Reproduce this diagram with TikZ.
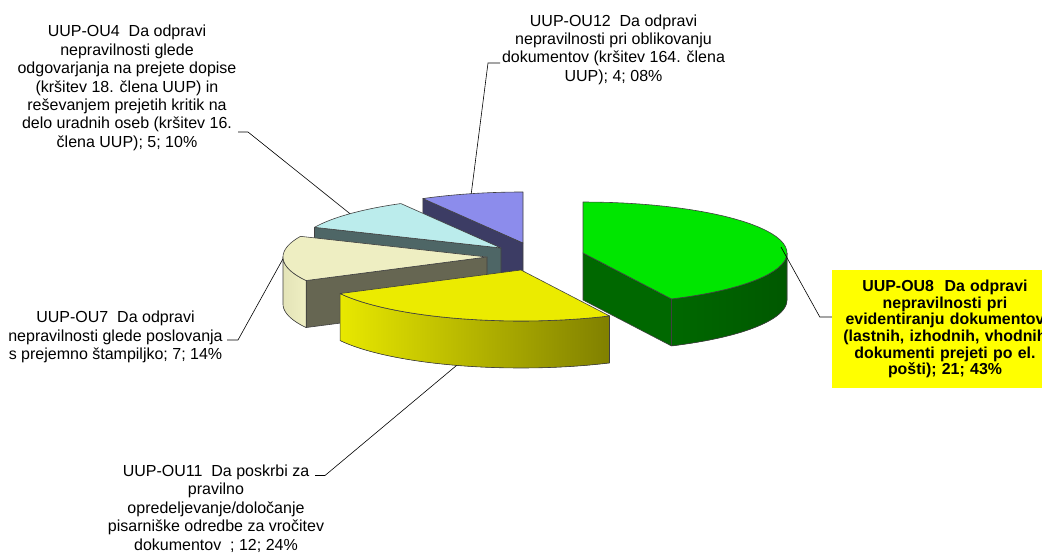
\documentclass[tikz,border=0pt]{standalone}
\usepackage{fontspec}
\setmainfont{Liberation Sans}
\definecolor{gtop}{RGB}{0, 230, 0}
\definecolor{gside}{RGB}{0, 104, 0}
\definecolor{gsidedk}{RGB}{0, 88, 0}
\definecolor{ytop}{RGB}{235, 235, 0}
\definecolor{yside}{RGB}{232, 232, 0}
\definecolor{ysidedk}{RGB}{128, 128, 0}
\definecolor{ktop}{RGB}{238, 238, 194}
\definecolor{kside}{RGB}{228, 228, 184}
\definecolor{kcut}{RGB}{102, 102, 82}
\definecolor{ctop}{RGB}{187, 236, 236}
\definecolor{ccut}{RGB}{78, 102, 102}
\definecolor{btop}{RGB}{140, 140, 236}
\definecolor{bcut}{RGB}{60, 60, 100}
\definecolor{labelyellow}{RGB}{255, 255, 0}
\usetikzlibrary{calc}

\def\pierx{204}
\def\piery{51}
\def\pieh{47}
% top of a slice: centre x, centre y, from, to, colour
\newcommand{\pietop}[5]{%
  \filldraw[slice, fill=#5] (#1,#2) -- plot[domain=#3:#4, samples=40] ({#1+\pierx*cos(\x)},{#2-\piery*sin(\x)}) -- cycle;}
% outer wall: centre x, centre y, from, to, fill options
\newcommand{\pierim}[5]{%
  \filldraw[slice, #5] plot[domain=#3:#4, samples=40] ({#1+\pierx*cos(\x)},{#2-\piery*sin(\x)})
    -- plot[domain=#4:#3, samples=40] ({#1+\pierx*cos(\x)},{#2-\piery*sin(\x)+\pieh}) -- cycle;}
% cut face: centre x, centre y, angle, colour
\newcommand{\piecut}[4]{%
  \filldraw[slice, fill=#4] (#1,#2) -- ++({\pierx*cos(#3)},{-\piery*sin(#3)}) -- ++(0,\pieh)
    -- ++({-\pierx*cos(#3)},{\piery*sin(#3)}) -- cycle;}

\begin{document}
\begin{tikzpicture}[x=1pt, y=-1pt,
  slice/.style={draw=black!75, line width=0.6pt, line join=round},
  lbl/.style={font={\fontsize{16}{18.4}\selectfont}, align=center, inner sep=0pt},
  leader/.style={draw=black, line width=0.6pt},
  hilite/.style={fill=labelyellow, font={\bfseries\fontsize{15.9}{16.6}\selectfont}, align=center,
    text width=210pt, inner xsep=8pt, inner ysep=0pt, minimum height=118pt}
]
  \useasboundingbox (0,0) rectangle (1042,553);
  \fill[white] (0,0) rectangle (1042,553);
  \clip (0,0) rectangle (1042,553);

  % slices, back to front
  \piecut{523}{243}{119.4}{bcut}
  \pietop{523}{243}{90}{119.4}{btop}
  \piecut{501}{248}{156.1}{ccut}
  \pietop{501}{248}{119.4}{156.1}{ctop}
  \piecut{487}{257}{-152.5}{kcut}
  \pierim{487}{257}{-152.5}{-180}{left color=kside, right color=ktop}
  \pietop{487}{257}{-152.5}{-203.9}{ktop}
  \piecut{583}{253}{-64.3}{gside}
  \pierim{583}{253}{0}{-64.3}{left color=gside, right color=gsidedk}
  \pietop{583}{253}{90}{-64.3}{gtop}
  \pierim{521}{270}{-64.3}{-152.5}{left color=yside, right color=ysidedk}
  \pietop{521}{270}{-64.3}{-152.5}{ytop}

  % where the leaders meet the slices
  \coordinate (p12) at ({523+\pierx*cos(104.7)},{243-\piery*sin(104.7)});
  \coordinate (p4) at ({501+\pierx*cos(137.75)},{248-\piery*sin(137.75)});
  \coordinate (p7) at ({487+\pierx*cos(-178.2)},{257-\piery*sin(-178.2)});
  \coordinate (p11) at ({521+\pierx*cos(-108.4)},{270-\piery*sin(-108.4)+\pieh});
  \coordinate (p8) at (781,247);

  % labels
  \node[lbl] (l4) at (127,88) {UUP-OU4\ \ Da odpravi\\nepravilnosti glede\\odgovarjanja na prejete dopise\\(kršitev 18. člena UUP) in\\reševanjem prejetih kritik na\\delo uradnih oseb (kršitev 16.\\člena UUP); 5; 10\%};
  \node[lbl] (l12) at (613.5,49.5) {UUP-OU12\ \ Da odpravi\\nepravilnosti pri oblikovanju\\dokumentov (kršitev 164. člena\\UUP); 4; 08\%};
  \node[lbl] (l7) at (115.5,337) {UUP-OU7\ \ Da odpravi\\nepravilnosti glede poslovanja\\s prejemno štampiljko; 7; 14\%};
  \node[lbl] (l11) at (216,508.5) {UUP-OU11\ \ Da poskrbi za\\pravilno\\opredeljevanje/določanje\\pisarniške odredbe za vročitev\\dokumentov\ \ ; 12; 24\%};
  \node[hilite] (l8) at (945,329) {UUP-OU8\ \ Da odpravi\\nepravilnosti pri\\evidentiranju dokumentov\\(lastnih, izhodnih, vhodnih\\dokumenti prejeti po el.\\pošti); 21; 43\%};

  % leaders
  \coordinate (t4) at (238,132);
  \coordinate (t12) at (500,63);
  \coordinate (t7) at (227,340);
  \coordinate (t11) at (315,475.5);
  \draw[leader] (t4) -- ++(10,0) -- (p4);
  \draw[leader] (t12) -- ++(-12,0) -- (p12);
  \draw[leader] (t7) -- ++(11,0) -- (p7);
  \draw[leader] (t11) -- ++(10,0) -- (p11);
  \draw[leader] (p8) -- ([xshift=-12pt, yshift=12pt]l8.west) -- ([yshift=12pt]l8.west);
\end{tikzpicture}
\end{document}
